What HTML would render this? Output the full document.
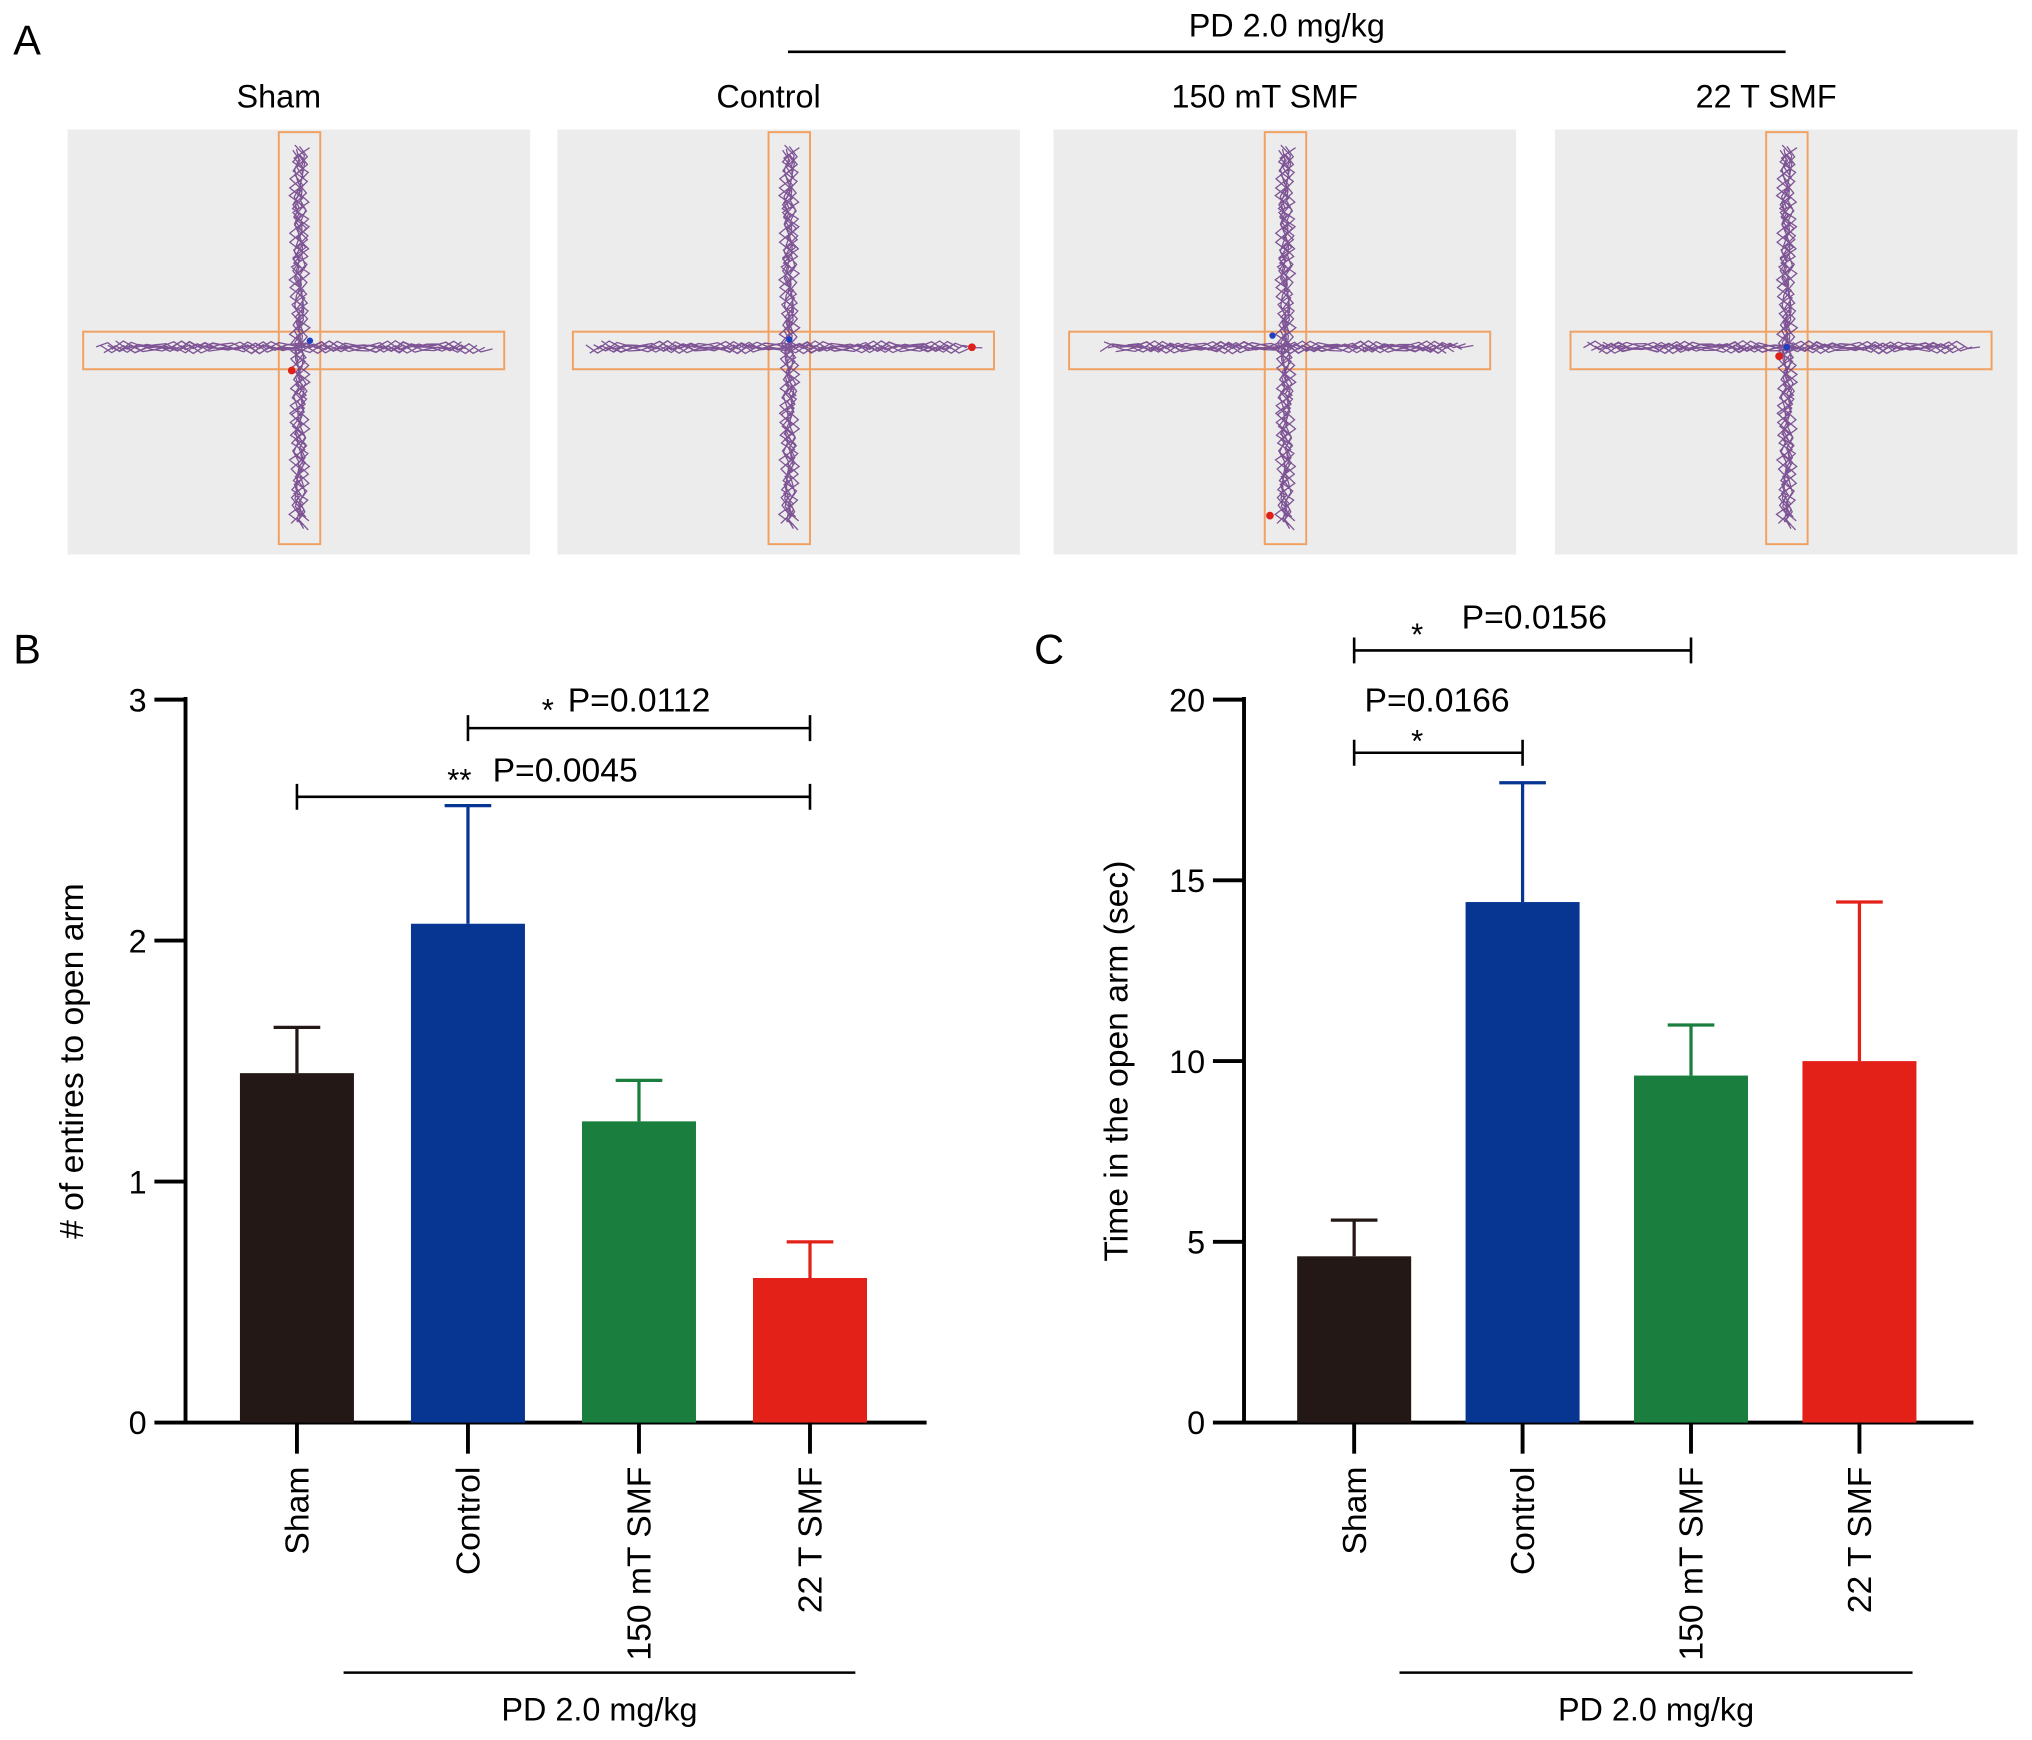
<!DOCTYPE html>
<html><head><meta charset="utf-8"><style>
html,body{margin:0;padding:0;background:#fff;}
svg{display:block;font-family:"Liberation Sans",Arial,sans-serif;}
</style></head><body>
<svg id="fig" width="2032" height="1740" viewBox="0 0 1568 1343" xmlns="http://www.w3.org/2000/svg">
<g id="panelA">
<text x="10" y="42" font-size="32">A</text>
<text x="993" y="28" font-size="25" text-anchor="middle">PD 2.0 mg/kg</text>
<line x1="608" y1="40" x2="1378" y2="40" stroke="#000" stroke-width="2"/>
</g>
<g id="panelB"></g>
<g id="panelC"></g>
</svg>
<script>
const NS="http://www.w3.org/2000/svg";
function mk(parent,tag,attrs,text){const e=document.createElementNS(NS,tag);for(const k in attrs)e.setAttribute(k,attrs[k]);if(text!==undefined)e.textContent=text;parent.appendChild(e);return e;}

// ---- Panel A mazes ----
const mazeTitles=["Sham","Control","150 mT SMF","22 T SMF"];
const mazeX=[52,430,813,1200];
const pA=document.getElementById('panelA');
mazeTitles.forEach((t,i)=>{
  const x0=mazeX[i];
  const g=mk(pA,'g',{});
  
  
  const bg=mk(g,'rect',{x:x0,y:100,width:357,height:328,fill:'#ececec'});
  
  
  const tt=mk(g,'text',{x:x0+163,y:83,'font-size':25,'text-anchor':'middle'},t);
  
  
  const cx=x0+179, cy=270;
  const vx=cx-16;
  const v=mk(g,'rect',{x:vx,y:102,width:32,height:318,fill:'none',stroke:'#f0a060','stroke-width':1.5});
  
  
  const h=mk(g,'rect',{x:x0+12,y:256,width:325,height:29,fill:'none',stroke:'#f0a060','stroke-width':1.5});
  
  
  let d='';
  const hl=(i==2)?x0+36:x0+22, hr=x0+328;
  for(let k=0;k<8;k++){
    let s='M';
    for(let yy=112+k;yy<=410-k;yy+=8){
      const w=Math.sin(yy*0.37+k*1.7)*5+Math.sin(yy*0.11+k)*3;
      s+=`${(cx+w).toFixed(1)} ${yy} L`;
    }
    d+=s.slice(0,-2)+' ';
    s='M';
    for(let xx=hl+k*3;xx<=hr-k*4;xx+=9){
      const w=Math.sin(xx*0.29+k*2.1)*3+Math.sin(xx*0.07+k)*2;
      s+=`${xx} ${(cy-2+w).toFixed(1)} L`;
    }
    d+=s.slice(0,-2)+' ';
  }
  const p=mk(g,'path',{d:d,fill:'none',stroke:'#6b3a86','stroke-width':1,opacity:0.85});
  
  
  const dots=[[[cx-6,286],[cx+8,263]],[[x0+320,268],[cx,262]],[[cx-12,398],[cx-10,259]],[[cx-6,275],[cx,268]]][i];
  const r=mk(g,'circle',{cx:dots[0][0],cy:dots[0][1],r:3,fill:'#e0201a'});
  
  
  const b=mk(g,'circle',{cx:dots[1][0],cy:dots[1][1],r:2.5,fill:'#2040c0'});
  
  
});

// ---- Bar chart data ----
const categories=["Sham","Control","150 mT SMF","22 T SMF"];
const colors=["#231815","#063592","#1a7f3e","#e32119"];
const entriesValues=[1.45,2.07,1.25,0.6];
const entriesErrors=[1.64,2.56,1.42,0.75];
const entriesTicks=[0,1,2,3];
const timeValues=[4.6,14.4,9.6,10.0];
const timeErrors=[5.6,17.7,11.0,14.4];
const timeTicks=[0,5,10,15,20];

function drawChart(gid,opt){
  const g=document.getElementById(gid);
  const yMax=opt.ticks[opt.ticks.length-1];
  const y=v=>opt.y0-(v/yMax)*(opt.y0-opt.yTop);
  const x=i=>opt.xFirst+i*opt.step;
  const lab=mk(g,'text',{x:opt.labelX,y:512,'font-size':32},opt.panel);
  
  
  const ya=mk(g,'line',{x1:opt.ax,y1:opt.yTop-2,x2:opt.ax,y2:opt.y0+1,stroke:'#000','stroke-width':3});
  
  
  const xa=mk(g,'line',{x1:opt.ax-2,y1:opt.y0,x2:opt.axEnd,y2:opt.y0,stroke:'#000','stroke-width':3});
  
  
  opt.ticks.forEach(t=>{
    const tl=mk(g,'line',{x1:opt.ax-24,y1:y(t),x2:opt.ax,y2:y(t),stroke:'#000','stroke-width':3});
    
    
    const tx=mk(g,'text',{x:opt.ax-30,y:y(t)+9,'font-size':25,'text-anchor':'end'},String(t));
    
    
  });
  const yt=mk(g,'text',{transform:`translate(${opt.ytX},${(opt.y0+opt.yTop)/2}) rotate(-90)`,'font-size':26,'text-anchor':'middle'},opt.yTitle);
  
  
  categories.forEach((c,i)=>{
    const cx=x(i), bw=88;
    const eb=mk(g,'path',{d:`M${cx} ${y(opt.vals[i])} V${y(opt.errs[i])} M${cx-18} ${y(opt.errs[i])} H${cx+18}`,stroke:colors[i],'stroke-width':2.5,fill:'none'});
    
    
    const r=mk(g,'rect',{x:cx-bw/2,y:y(opt.vals[i]),width:bw,height:opt.y0-y(opt.vals[i]),fill:colors[i]});
    
    
    const tk=mk(g,'line',{x1:cx,y1:opt.y0,x2:cx,y2:opt.y0+24,stroke:'#000','stroke-width':3});
    
    
    const tx=mk(g,'text',{transform:`translate(${cx+9},${opt.y0+34}) rotate(-90)`,'font-size':26,'text-anchor':'end'},c);
    
    
  });
  const pl=mk(g,'line',{x1:opt.pdX1,y1:1291,x2:opt.pdX2,y2:1291,stroke:'#000','stroke-width':2});
  
  
  const pt=mk(g,'text',{x:(opt.pdX1+opt.pdX2)/2,y:1328,'font-size':25,'text-anchor':'middle'},'PD 2.0 mg/kg');
  
  
  opt.sig.forEach(s=>{
    const sb=mk(g,'path',{d:`M${x(s.a)} ${s.y-10} V${s.y+10} M${x(s.a)} ${s.y} H${x(s.b)} M${x(s.b)} ${s.y-10} V${s.y+10}`,stroke:'#000','stroke-width':2,fill:'none'});
    
    
    const st=mk(g,'text',{x:s.tx,y:s.ty,'font-size':26},s.text);
    
    
    const ss=mk(g,'text',{x:s.sx,y:s.sy,'font-size':24},s.star);
    
    
  });
}
drawChart('panelB',{panel:'B',labelX:10,ax:143,axEnd:715,y0:1098,yTop:540,ticks:entriesTicks,vals:entriesValues,errs:entriesErrors,
  xFirst:229,step:132,ytX:64,yTitle:'# of entires to open arm',pdX1:265,pdX2:660,
  sig:[{a:1,b:3,y:562,text:'P=0.0112',tx:438,ty:549,star:'*',sx:418,sy:556},
       {a:0,b:3,y:615,text:'P=0.0045',tx:380,ty:603,star:'**',sx:345,sy:610}]});
drawChart('panelC',{panel:'C',labelX:798,ax:960,axEnd:1523,y0:1098,yTop:540,ticks:timeTicks,vals:timeValues,errs:timeErrors,
  xFirst:1045,step:130,ytX:870,yTitle:'Time in the open arm (sec)',pdX1:1080,pdX2:1476,
  sig:[{a:0,b:2,y:502,text:'P=0.0156',tx:1128,ty:485,star:'*',sx:1089,sy:498},
       {a:0,b:1,y:581,text:'P=0.0166',tx:1053,ty:549,star:'*',sx:1089,sy:580}]});
</script>
</body></html>
